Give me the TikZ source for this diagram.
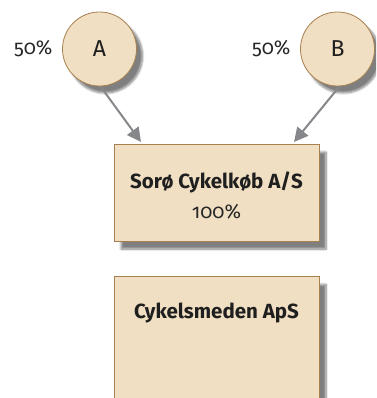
\documentclass[tikz,border=0pt]{standalone}
\usepackage{fontspec}
\setmainfont[Numbers=OldStyle]{Fira Sans}
\usetikzlibrary{shadows.blur,arrows.meta}
\definecolor{boxfill}{HTML}{F0DFC2}
\definecolor{boxline}{HTML}{A8804F}
\definecolor{arrowgray}{HTML}{85878A}
\tikzset{
  owner/.style={circle, draw=boxline, line width=0.8pt, fill=boxfill, minimum size=74pt, inner sep=0pt, font=\fontsize{23}{25}\selectfont, text=black!88, blur shadow={shadow xshift=6pt, shadow yshift=-7pt, shadow blur steps=8, shadow opacity=50}},
  company/.style={draw=boxline, line width=0.8pt, fill=boxfill, inner sep=0pt, blur shadow={shadow xshift=7pt, shadow yshift=-8pt, shadow blur steps=8, shadow opacity=50}},
  pct/.style={font=\fontsize{20}{22}\selectfont, text=black!85},
  title/.style={font=\fontsize{20.5}{23}\selectfont\bfseries, text=black!88},
  link/.style={draw=arrowgray, line width=2pt, -{Triangle[length=14pt,width=14pt]}}
}
\begin{document}
\begin{tikzpicture}[x=1pt,y=-1pt]
\useasboundingbox (0,0) rectangle (376,398);
\clip (0,0) rectangle (376,398);
\node[owner] (A) at (99.5,49) {A};
\node[owner] (B) at (337.5,49) {B};
\node[pct, anchor=east] (pa) at (56,49) {50\%};
\node[pct, anchor=east] (pb) at (294,49) {50\%};
\node[company, minimum width=205pt, minimum height=97pt] (S) at (216.5,192.5) {};
\node[title] (st) at (216.5,182) {Sorø Cykelkøb A/S};
\node[pct] (sp) at (216.5,212) {100\%};
\node[company, minimum width=205pt, minimum height=160pt, anchor=north] (C) at (216.5,276) {};
\node[title] (ct) at (216.5,313) {Cykelsmeden ApS};
\coordinate (ea) at (141,142);
\coordinate (eb) at (294,142);
\draw[link] (A.south) ++(1,0) -- (ea);
\draw[link] (B.south) ++(2,0) -- (eb);
\end{tikzpicture}
\end{document}
